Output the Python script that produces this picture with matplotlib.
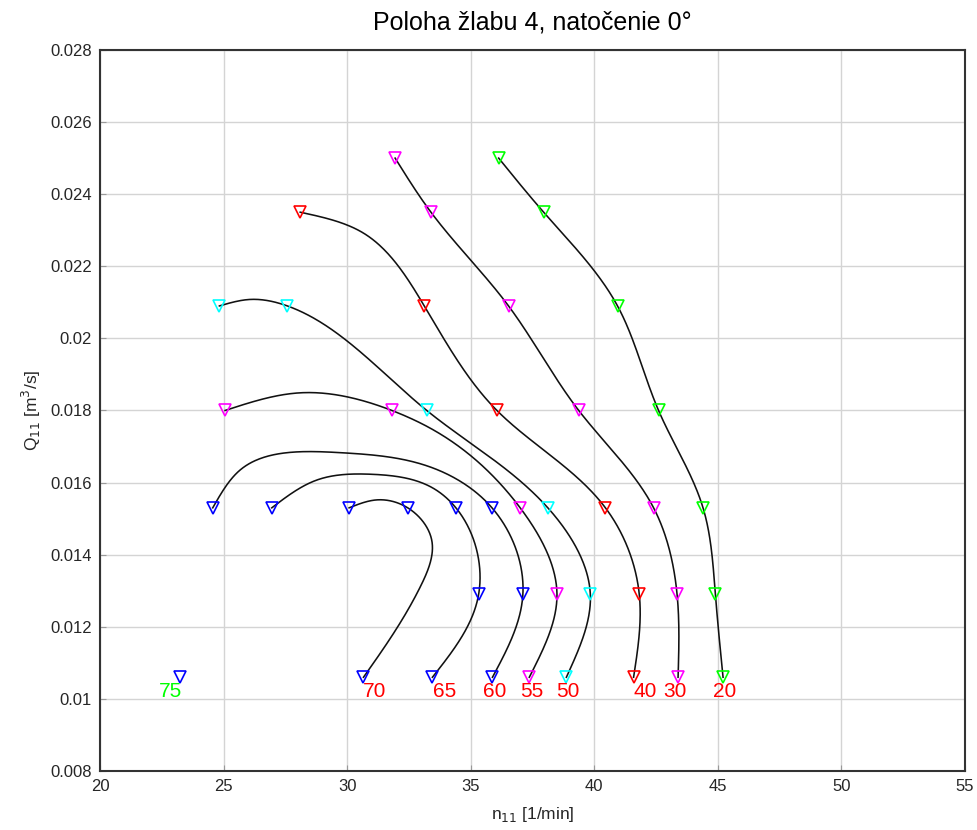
import numpy as np
import matplotlib
matplotlib.use("Agg")
import matplotlib.pyplot as plt

plt.rcParams['font.family'] = ['Liberation Sans', 'DejaVu Sans']

# rows of measured Q11 values
rows7 = [0.025, 0.0235, 0.0209, 0.018, 0.0153, 0.0129, 0.0106]

# measured points (markers), one list per curve
m20_x = [36.13, 37.95, 40.94, 42.60, 44.40, 44.90, 45.21]
m20_y = rows7
m30_x = [31.94, 33.39, 36.53, 39.37, 42.40, 43.35, 43.39]
m30_y = rows7
m40_x = [28.10, 33.12, 36.06, 40.45, 41.82, 41.59]
m40_y = [0.0235, 0.0209, 0.018, 0.0153, 0.0129, 0.0106]
m50_x = [24.83, 27.58, 33.22, 38.12, 39.84, 38.87]
m50_y = [0.0209, 0.0209, 0.018, 0.0153, 0.0129, 0.0106]
m55_x = [25.06, 31.81, 37.0, 38.49, 37.37]
m55_y = [0.018, 0.018, 0.0153, 0.0129, 0.0106]
m60_x = [24.56, 35.86, 37.11, 35.88]
m60_y = [0.0153, 0.0153, 0.0129, 0.0106]
m65_x = [26.95, 34.40, 35.32, 33.45]
m65_y = [0.0153, 0.0153, 0.0129, 0.0106]
m70_x = [30.08, 32.45, 30.66]
m70_y = [0.0153, 0.0153, 0.0106]
m75_x = [23.24]
m75_y = [0.0106]

# traced curves
c20_x = m20_x
c20_y = m20_y
c30_x = m30_x
c30_y = m30_y
c40_x = [28.10, 30.66, 33.12, 36.06, 40.45, 41.82, 41.59]
c40_y = [0.0235, 0.02292, 0.0209, 0.018, 0.0153, 0.0129, 0.0106]
c50_x = [24.83, 26.07, 27.58, 30.12, 33.22, 38.12, 39.84, 38.87]
c50_y = [0.0209, 0.02108, 0.0209, 0.01986, 0.018, 0.0153, 0.0129, 0.0106]
c55_x = [25.06, 28.10, 31.81, 33.49, 37.0, 38.49, 37.37]
c55_y = [0.018, 0.01849, 0.018, 0.01746, 0.0153, 0.0129, 0.0106]
c60_x = [24.56, 25.67, 29.72, 33.49, 35.86, 37.11, 35.88]
c60_y = [0.0153, 0.01635, 0.01683, 0.0164, 0.0153, 0.0129, 0.0106]
c65_x = [26.95, 28.77, 31.0, 33.49, 34.40, 35.32, 33.45]
c65_y = [0.0153, 0.01607, 0.01623, 0.01584, 0.0153, 0.0129, 0.0106]
c70_x = [30.08, 31.2, 32.45, 33.42, 32.96, 30.66]
c70_y = [0.0153, 0.01552, 0.0153, 0.01441, 0.01311, 0.0106]

curve_labels = ['75', '70', '65', '60', '55', '50', '40', '30', '20']
label_x = [22.4, 30.63, 33.47, 35.48, 36.98, 38.46, 41.58, 42.8, 44.8]
label_y = 0.0102
label_colors = ['#00ff00'] + ['red'] * 8

curves = [(c20_x, c20_y), (c30_x, c30_y), (c40_x, c40_y), (c50_x, c50_y),
          (c55_x, c55_y), (c60_x, c60_y), (c65_x, c65_y), (c70_x, c70_y)]
markers = [(m20_x, m20_y, '#00ff00'), (m30_x, m30_y, 'magenta'),
           (m40_x, m40_y, 'red'), (m50_x, m50_y, 'cyan'),
           (m55_x, m55_y, 'magenta'), (m60_x, m60_y, 'blue'),
           (m65_x, m65_y, 'blue'), (m70_x, m70_y, 'blue'),
           (m75_x, m75_y, 'blue')]


def natural_spline(t, v, tt):
    n = len(t) - 1
    h = np.diff(t)
    A = np.zeros((n + 1, n + 1))
    r = np.zeros(n + 1)
    A[0, 0] = A[n, n] = 1.0
    for i in range(1, n):
        A[i, i - 1] = h[i - 1]
        A[i, i] = 2 * (h[i - 1] + h[i])
        A[i, i + 1] = h[i]
        r[i] = 6 * ((v[i + 1] - v[i]) / h[i] - (v[i] - v[i - 1]) / h[i - 1])
    M = np.linalg.solve(A, r)
    k = np.clip(np.searchsorted(t, tt) - 1, 0, n - 1)
    a, b, hk = t[k + 1] - tt, tt - t[k], h[k]
    return (M[k] * a ** 3 / (6 * hk) + M[k + 1] * b ** 3 / (6 * hk)
            + (v[k] / hk - M[k] * hk / 6) * a + (v[k + 1] / hk - M[k + 1] * hk / 6) * b)


def smooth(xs, ys, n=400):
    # parametric spline in screen-like units, chord-length parameter
    px = (np.array(xs) - 20) / 35.0
    py = (np.array(ys) - 0.008) / 0.02 * 721 / 863
    t = np.concatenate([[0], np.cumsum(np.hypot(np.diff(px), np.diff(py)))])
    tt = np.linspace(0, t[-1], n)
    sx = natural_spline(t, px, tt)
    sy = natural_spline(t, py, tt)
    return sx * 35.0 + 20, sy * 0.02 * 863 / 721 + 0.008


fig = plt.figure(figsize=(9.77, 8.30), dpi=100)
ax = fig.add_axes([0.1024, 0.0711, 0.8853, 0.8687])

for cx, cy in curves:
    sx, sy = smooth(cx, cy)
    ax.plot(sx, sy, color='#111111', lw=1.15, zorder=3)

for mx, my, col in markers:
    ax.plot(mx, my, 'v', ms=9, mfc='none', mec=col, mew=1.2, zorder=4)

for txt, lx, col in zip(curve_labels, label_x, label_colors):
    ax.text(lx, label_y, txt, color=col, fontsize=15, ha='left', va='center',
            zorder=5)

ax.set_xlim(20, 55)
ax.set_ylim(0.008, 0.028)
ax.set_xticks(np.arange(20, 56, 5))
yt = np.arange(0.008, 0.0281, 0.002)
ax.set_yticks(yt)
ax.set_yticklabels(['%g' % round(v, 3) for v in yt])
ax.grid(True, color='#d4d4d4', lw=1.0)
ax.set_axisbelow(True)
for s in ax.spines.values():
    s.set_color('#333333')
    s.set_linewidth(1.5)
ax.tick_params(direction='in', length=4, width=0.8, color='#999999',
               labelsize=12, labelcolor='#262626', pad=6)
ax.set_title('Poloha žlabu 4, natočenie 0°', fontsize=18, pad=15)
ax.set_xlabel('n$_{11}$ [1/min]', fontsize=12.5, color='#262626', labelpad=8)
ax.set_ylabel('Q$_{11}$ [m$^3$/s]', fontsize=12.5, color='#262626', labelpad=5)

fig.savefig('out.png', dpi=100)
